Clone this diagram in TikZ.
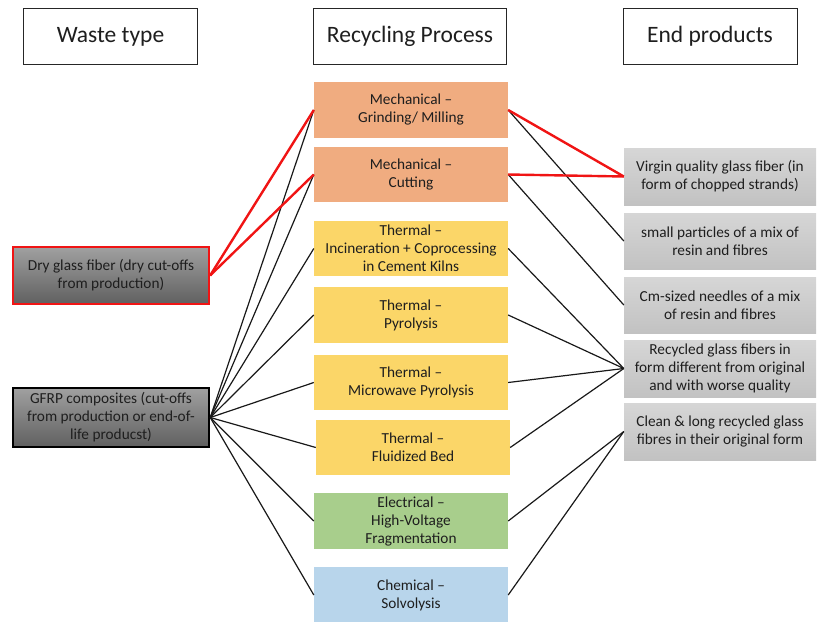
\documentclass[tikz,border=0pt]{standalone}
\usepackage{fontspec}
\setmainfont{Carlito}
\definecolor{mech}{RGB}{240,172,128}
\definecolor{therm}{RGB}{251,214,104}
\definecolor{elec}{RGB}{168,206,140}
\definecolor{chem}{RGB}{184,213,235}
\definecolor{wtop}{RGB}{160,160,160}
\definecolor{wbot}{RGB}{96,96,96}
\definecolor{ptop}{RGB}{214,214,214}
\definecolor{pbot}{RGB}{194,194,194}
\definecolor{txt}{RGB}{30,30,30}
\definecolor{redl}{RGB}{240,20,20}
\begin{document}
\begin{tikzpicture}[x=1pt,y=-1pt,
  hdr/.style={draw=black!85, line width=0.9pt, minimum height=56pt, inner sep=0pt, font=\fontsize{23.5}{28}\selectfont, text=txt},
  proc/.style={minimum width=194pt, minimum height=55pt, inner sep=0pt, align=center, font=\fontsize{15.3}{18}\selectfont, text=txt},
  prod/.style={top color=ptop, bottom color=pbot, minimum width=192pt, minimum height=57pt, inner sep=0pt, align=center, font=\fontsize{15.3}{18}\selectfont, text=txt},
  waste/.style={top color=wtop, bottom color=wbot, minimum width=196pt, inner sep=0pt, align=center, font=\fontsize{15.3}{18}\selectfont, text=txt},
  blk/.style={draw=black!90, line width=1.2pt},
  rdl/.style={draw=redl, line width=2.4pt}
]
\useasboundingbox (0,0) rectangle (818,621);
% headers
\node[hdr, minimum width=174pt] (h1) at (110.5,36.5) {Waste type};
\node[hdr, minimum width=193pt] (h2) at (410,36.5) {Recycling Process};
\node[hdr, minimum width=174pt] (h3) at (710,36.5) {End products};
% waste
\node[waste, draw=redl, line width=2.2pt, minimum height=57pt] (dry) at (111,275.5) {Dry glass fiber (dry cut-offs\\from production)};
\node[waste, draw=black, line width=2.5pt, minimum height=59pt] (gfrp) at (111,417.5) {GFRP composites (cut-offs\\from production or end-of-\\life producst)};
% processes
\node[proc, fill=mech, minimum height=56pt] (p1) at (411,110) {Mechanical --\\Grinding/ Milling};
\node[proc, fill=mech] (p2) at (411,174.5) {Mechanical --\\Cutting};
\node[proc, fill=therm] (p3) at (411,248.5) {Thermal --\\Incineration + Coprocessing\\in Cement Kilns};
\node[proc, fill=therm, minimum height=56pt] (p4) at (411,315) {Thermal --\\Pyrolysis};
\node[proc, fill=therm] (p5) at (411,382.5) {Thermal --\\Microwave Pyrolysis};
\node[proc, fill=therm] (p6) at (413,447.5) {Thermal --\\Fluidized Bed};
\node[proc, fill=elec, minimum height=56pt] (p7) at (411,521) {Electrical --\\High-Voltage\\Fragmentation};
\node[proc, fill=chem, minimum height=56pt] (p8) at (411,595) {Chemical --\\Solvolysis};
% products
\node[prod] (e1) at (720,176.5) {Virgin quality glass fiber (in\\form of chopped strands)};
\node[prod, minimum height=56pt] (e2) at (720,241) {small particles of a mix of\\resin and fibres};
\node[prod, minimum height=56pt] (e3) at (720,305) {Cm-sized needles of a mix\\of resin and fibres};
\node[prod] (e4) at (720,368.5) {Recycled glass fibers in\\form different from original\\and with worse quality};
\node[prod] (e5) at (720,431.5) {Clean \& long recycled glass\\fibres in their original form};
% connectors left
\foreach \p in {p1,p2,p3,p4,p5,p6,p7,p8}{\draw[blk] (gfrp.east) -- (\p.west);}
\draw[rdl] (dry.east) -- (p1.west);
\draw[rdl] (dry.east) -- (p2.west);
% connectors right
\draw[blk] (p1.east) -- (e2.west);
\draw[blk] (p2.east) -- (e3.west);
\draw[blk] (p3.east) -- (e4.west);
\draw[blk] (p4.east) -- (e4.west);
\draw[blk] (p5.east) -- (e4.west);
\draw[blk] (p6.east) -- (e4.west);
\draw[blk] (p7.east) -- (e5.west);
\draw[blk] (p8.east) -- (e5.west);
\draw[rdl] (p1.east) -- (e1.west);
\draw[rdl] (p2.east) -- (e1.west);
\end{tikzpicture}
\end{document}
